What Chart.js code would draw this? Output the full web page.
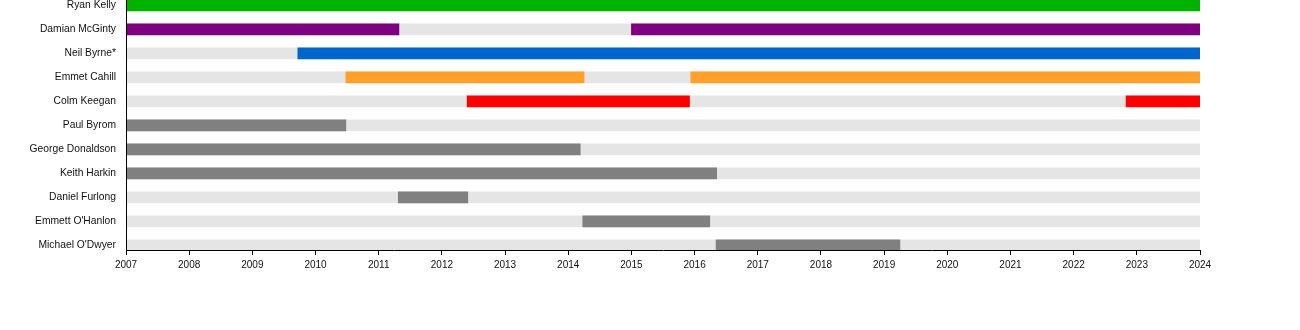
<!DOCTYPE html>
<html>
<head>
<meta charset="utf-8">
<script src="https://cdn.jsdelivr.net/npm/chart.js@4"></script>
<style>
  html, body { margin: 0; padding: 0; background: #fff; }
  #wrap { width: 1300px; height: 330px; }
</style>
</head>
<body>
<div id="wrap"><canvas id="timeline" width="1300" height="330"></canvas></div>
<script>
/* ===== Data ===== */
const members = [
  "Ryan Kelly", "Damian McGinty", "Neil Byrne*", "Emmet Cahill", "Colm Keegan",
  "Paul Byrom", "George Donaldson", "Keith Harkin", "Daniel Furlong",
  "Emmett O'Hanlon", "Michael O'Dwyer"
];
const yearTicks = [2007, 2008, 2009, 2010, 2011, 2012, 2013, 2014, 2015, 2016,
                   2017, 2018, 2019, 2020, 2021, 2022, 2023, 2024];
const fullSpan = [2007, 2024];

// active periods per member (decimal years)
const ryanKelly       = [[2007, 2024]];
const damianMcGinty   = [[2007, 2011.32], [2015.0, 2024]];
const neilByrne       = [[2009.72, 2024]];
const emmetCahill     = [[2010.48, 2014.25], [2015.94, 2024]];
const colmKeegan      = [[2012.40, 2015.92], [2022.83, 2024]];
const paulByrom       = [[2007, 2010.48]];
const georgeDonaldson = [[2007, 2014.19]];
const keithHarkin     = [[2007, 2016.35]];
const danielFurlong   = [[2011.31, 2012.41]];
const emmettOHanlon   = [[2014.23, 2016.24]];
const michaelODwyer   = [[2016.34, 2019.25]];

const stints = [ryanKelly, damianMcGinty, neilByrne, emmetCahill, colmKeegan,
  paulByrom, georgeDonaldson, keithHarkin, danielFurlong, emmettOHanlon, michaelODwyer];

/* ===== Stil ===== */
const memberColours = ["#00b300", "#7f007f", "#0066cc", "#ffa02a", "#ff0000",
  "#808080", "#808080", "#808080", "#808080", "#808080", "#808080"];
const idleColour = "#e5e5e5";
const FAMILY = "'Liberation Sans', Arial, sans-serif";

const datasets = members.map((name, i) => ({
  label: name,
  data: stints[i].map(s => ({ x: s, y: i })),
  backgroundColor: memberColours[i],
  order: 1,
}));
datasets.push({
  label: "idle",
  data: members.map((_, i) => ({ x: fullSpan, y: i })),
  backgroundColor: idleColour,
  order: 2,
});
datasets.forEach(d => {
  d.grouped = false;
  d.barThickness = 11;
  d.borderWidth = 0;
  d.borderSkipped = false;
});

new Chart(document.getElementById("timeline").getContext("2d"), {
  type: "bar",
  data: { datasets },
  options: {
    indexAxis: "y",
    responsive: false,
    animation: false,
    events: [],
    layout: { padding: { left: 0, right: 100, top: 0, bottom: 0 } },
    plugins: { legend: { display: false }, tooltip: { enabled: false } },
    scales: {
      x: {
        type: "linear",
        min: fullSpan[0],
        max: fullSpan[1],
        z: 1,
        afterBuildTicks: s => { s.ticks = yearTicks.map(v => ({ value: v })); },
        afterFit: s => { s.height = 80; },
        ticks: {
          color: "#111",
          font: { family: FAMILY, size: 10 },
          padding: 4,
          maxRotation: 0,
          autoSkip: false,
          callback: v => String(v),
        },
        grid: { drawOnChartArea: false, drawTicks: true, tickLength: 5, color: "#000", tickWidth: 1 },
        border: { display: true, color: "#000", width: 1, z: 2 },
      },
      y: {
        type: "linear",
        reverse: true,
        offset: false,
        min: -0.222,
        max: 10.194,
        z: 1,
        afterBuildTicks: s => { s.ticks = members.map((_, i) => ({ value: i })); },
        afterFit: s => { s.width = 126; s.paddingTop = 0; s.paddingBottom = 0; },
        ticks: {
          color: "#111",
          font: { family: FAMILY, size: 10.3 },
          padding: 10,
          autoSkip: false,
          callback: v => members[v] ?? "",
        },
        grid: { display: false, drawTicks: false, offset: false },
        border: { display: true, color: "#000", width: 1, z: 2 },
      },
    },
  },
});
</script>
</body>
</html>
